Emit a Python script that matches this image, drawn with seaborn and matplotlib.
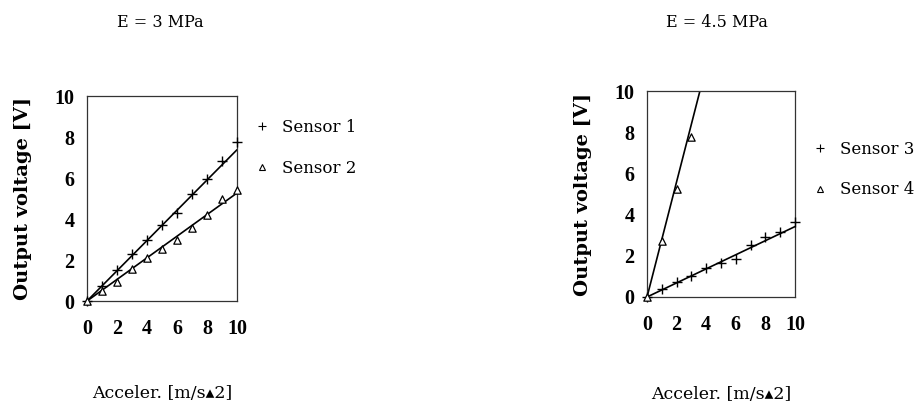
import matplotlib
matplotlib.use('Agg')
import matplotlib.pyplot as plt
import seaborn as sns
import pandas as pd
from matplotlib.lines import Line2D

# measured points (acceleration 0..10 m/s^2)
accel = [0, 1, 2, 3, 4, 5, 6, 7, 8, 9, 10]
sensor1 = [0, 0.72, 1.53, 2.31, 3.0, 3.71, 4.27, 5.21, 5.94, 6.84, 7.74]
sensor2 = [0, 0.49, 0.93, 1.55, 2.10, 2.56, 3.0, 3.58, 4.19, 4.97, 5.41]
sensor3 = [0, 0.37, 0.75, 1.04, 1.40, 1.65, 1.85, 2.54, 2.89, 3.16, 3.64]
accel4 = [0, 1, 2, 3]
sensor4 = [0, 2.70, 5.25, 7.75]

# fitted lines (end points)
fit_x = [0, 10]
fit1 = [0, 7.38]
fit2 = [0, 5.27]
fit3 = [0, 3.42]
fit4 = [0, 28.0]

titles = ['E = 3 MPa', 'E = 4.5 MPa']
ticks = [0, 2, 4, 6, 8, 10]

sns.set_style('white')
plt.rcParams['font.family'] = ['DejaVu Serif', 'DejaVu Sans']
plt.rcParams['font.size'] = 12
plt.rcParams['text.color'] = 'black'
plt.rcParams['axes.labelcolor'] = 'black'
plt.rcParams['xtick.color'] = 'black'
plt.rcParams['ytick.color'] = 'black'

fig = plt.figure(figsize=(9.17, 4.07), dpi=100)
ax1 = fig.add_axes([0.0949, 0.2604, 0.1636, 0.5037])
ax2 = fig.add_axes([0.7056, 0.2703, 0.1614, 0.5060])


def draw(ax, pts, fits, names, title, tx, ty, lx, ly, leg_y):
    for (xs, ys, mk) in pts:
        df = pd.DataFrame({'x': xs, 'y': ys})
        if mk == '+':
            sns.scatterplot(data=df, x='x', y='y', ax=ax, marker='+', s=45,
                            color='black', linewidth=1.0, zorder=3, clip_on=False)
        else:
            sns.scatterplot(data=df, x='x', y='y', ax=ax, marker='^', s=28,
                            facecolor='white', edgecolor='black', linewidth=0.9,
                            zorder=3, clip_on=False)
    for ys in fits:
        sns.lineplot(x=fit_x, y=ys, ax=ax, color='black', linewidth=1.2, zorder=2)
    ax.set_xlim(0, 10)
    ax.set_ylim(0, 10)
    ax.set_xticks(ticks)
    ax.set_yticks(ticks)
    ax.tick_params(direction='in', length=3, width=0.8, pad=9)
    ax.tick_params(axis='x', pad=13)
    for lab in ax.get_xticklabels() + ax.get_yticklabels():
        lab.set_fontfamily('Liberation Serif')
        lab.set_fontweight('bold')
        lab.set_fontsize(14.5)
    for sp in ax.spines.values():
        sp.set_color('#333333')
        sp.set_linewidth(0.9)
    ax.set_xlabel('Acceler. [m/s\u25b42]', fontsize=12.5)
    ax.set_ylabel('Output voltage [V]', fontsize=14, fontweight='bold')
    ax.xaxis.set_label_coords(lx, ly)
    ax.yaxis.set_label_coords(-0.37, 0.5)
    ax.text(tx, ty, title, transform=ax.transAxes, ha='center', va='center', fontsize=11.5)
    handles = [Line2D([], [], marker='+', linestyle='none', color='black', markersize=6, markeredgewidth=0.8),
               Line2D([], [], marker='^', linestyle='none', markerfacecolor='white',
                      markeredgecolor='black', markersize=4, markeredgewidth=0.8)]
    ax.legend(handles, names, loc='upper left', bbox_to_anchor=(1.01, leg_y), frameon=False,
              fontsize=12, handlelength=1.0, handletextpad=0.7, labelspacing=1.4)


draw(ax1, [(accel, sensor1, '+'), (accel, sensor2, '^')], [fit1, fit2],
     ['Sensor 1', 'Sensor 2'], titles[0], 0.49, 1.36, 0.5, -0.41, 0.96)
draw(ax2, [(accel, sensor3, '+'), (accel4, sensor4, '^')], [fit3, fit4],
     ['Sensor 3', 'Sensor 4'], titles[1], 0.47, 1.335, 0.5, -0.43, 0.83)

fig.savefig('out.png', dpi=100)
